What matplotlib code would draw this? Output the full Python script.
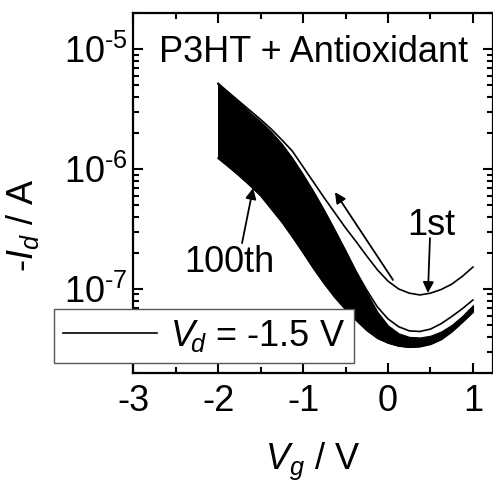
import numpy as np
import matplotlib
matplotlib.use("Agg")
from matplotlib import pyplot as plt
from matplotlib.ticker import FuncFormatter, LogLocator

plt.rcParams['font.family'] = ['Liberation Sans', 'DejaVu Sans']
plt.rcParams['mathtext.fontset'] = 'custom'
plt.rcParams['mathtext.rm'] = 'Liberation Sans'
plt.rcParams['mathtext.it'] = 'Liberation Sans:italic'
plt.rcParams['axes.unicode_minus'] = False

# gate voltage (V)
vg = [-2.0, -1.875, -1.75, -1.625, -1.5, -1.375, -1.25, -1.125, -1.0, -0.875, -0.75, -0.625, -0.5,
      -0.375, -0.25, -0.125, 0.0, 0.125, 0.25, 0.375, 0.5, 0.625, 0.75, 0.875, 1.0]

# log10(-Id) for the 1st sweep
log_first = [-5.283, -5.36, -5.435, -5.51, -5.585, -5.665, -5.755, -5.85, -5.98, -6.11, -6.24, -6.365, -6.49,
             -6.605, -6.725, -6.84, -6.935, -7.0, -7.035, -7.05, -7.035, -7.005, -6.96, -6.895, -6.817]
# 2nd sweep
log_second = [-5.29, -5.365, -5.445, -5.53, -5.605, -5.69, -5.79, -5.91, -6.045, -6.19, -6.345, -6.51, -6.68,
              -6.855, -7.01, -7.15, -7.25, -7.315, -7.35, -7.355, -7.335, -7.29, -7.23, -7.165, -7.092]
# upper envelope of sweeps 3..100
log_band_top = [-5.295, -5.37, -5.45, -5.535, -5.61, -5.695, -5.795, -5.915, -6.05, -6.195, -6.35, -6.515, -6.685,
                -6.86, -7.03, -7.19, -7.305, -7.37, -7.4, -7.405, -7.39, -7.355, -7.3, -7.225, -7.135]
# 100th sweep (lower envelope)
log_band_bottom = [-5.908, -5.98, -6.055, -6.135, -6.22, -6.33, -6.44, -6.565, -6.695, -6.83, -6.955, -7.07, -7.17,
                   -7.26, -7.345, -7.41, -7.45, -7.475, -7.485, -7.48, -7.46, -7.42, -7.355, -7.275, -7.19]

vg = np.array(vg)
i_first = 10 ** np.array(log_first)
i_second = 10 ** np.array(log_second)
i_top = 10 ** np.array(log_band_top)
i_bottom = 10 ** np.array(log_band_bottom)

fs = 26
fig = plt.figure(figsize=(4.93, 4.84), dpi=100)
ax = fig.add_axes([0.270, 0.230, 0.729, 0.7425])

ax.fill_between(vg, i_bottom, i_top, color='black', lw=0.8, edgecolor='black')
ax.plot(vg, i_bottom, color='black', lw=1.2)
ax.plot(vg, i_second, color='black', lw=1.2)
ax.plot(vg, i_first, color='black', lw=1.2, label=r'$V_{\!d}$ = -1.5 V')

ax.set_yscale('log')
ax.set_xlim(-3, 1.23)
ax.set_ylim(2e-8, 2e-5)
ax.set_xticks([-3, -2, -1, 0, 1])
ax.set_xticks([-2.5, -1.5, -0.5, 0.5], minor=True)
ax.yaxis.set_major_locator(LogLocator(base=10))
ax.yaxis.set_major_formatter(FuncFormatter(lambda v, p: r'$10^{\text{-}%d}$' % round(-np.log10(v))))

ax.tick_params(which='both', direction='in', top=True, right=True, labelsize=fs, width=1.5)
ax.tick_params(which='major', length=7)
ax.tick_params(which='minor', length=4)
ax.tick_params(axis='x', pad=8)
ax.tick_params(axis='y', pad=4)
for s in ax.spines.values():
    s.set_linewidth(1.6)

ax.set_xlabel('$V_g$ / V', fontsize=fs)
ax.set_ylabel('-$I_d$ / A', fontsize=fs)
ax.xaxis.set_label_coords(0.5, -0.19)
ax.yaxis.set_label_coords(-0.255, 0.41)

ax.text(0.503, 0.864, 'P3HT + Antioxidant', transform=ax.transAxes, ha='center', va='baseline', fontsize=fs)
ax.text(0.506, 10 ** -6.55, '1st', ha='center', va='baseline', fontsize=fs)
ax.text(-1.87, 10 ** -6.858, '100th', ha='center', va='baseline', fontsize=fs)

arrow = dict(arrowstyle='-|>', color='black', lw=1.3, mutation_scale=16, shrinkA=0, shrinkB=0)
ax.annotate('', xy=(0.47, 10 ** -7.033), xytext=(0.494, 10 ** -6.575), arrowprops=arrow)
ax.annotate('', xy=(-1.588, 10 ** -6.158), xytext=(-1.718, 10 ** -6.617), arrowprops=arrow)
ax.annotate('', xy=(-0.624, 10 ** -6.192), xytext=(0.059, 10 ** -6.925), arrowprops=arrow)

leg = ax.legend(loc='lower left', bbox_to_anchor=(-0.22, 0.028), fontsize=fs, fancybox=False,
                framealpha=1, edgecolor='#555555', handlelength=2.6, handletextpad=0.35,
                borderpad=0.25, borderaxespad=0)
leg.get_frame().set_linewidth(1.0)

fig.savefig('out.png', dpi=100)
